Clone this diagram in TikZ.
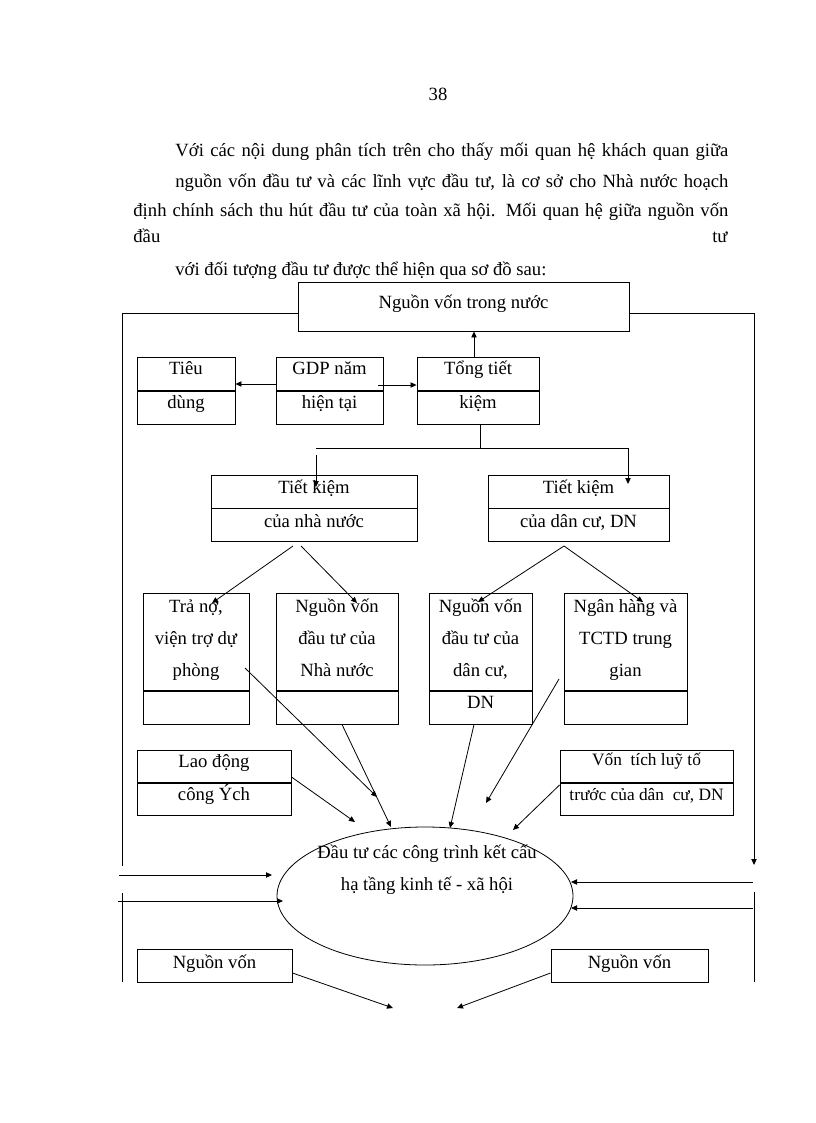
\documentclass[tikz,border=0pt]{standalone}
\usepackage{fontspec}
\setmainfont{Liberation Serif}
\usetikzlibrary{arrows.meta,fit,shapes.geometric}

\begin{document}
\begin{tikzpicture}[x=0.75pt, y=-0.75pt, line width=0.6pt,
  box/.style={draw, inner sep=0pt, line width=0.7pt},
  txt/.style={font=\fontsize{14}{16}\selectfont, inner sep=0pt, anchor=base},
  small txt/.style={txt, font=\fontsize{13}{15}\selectfont},
  arr/.style={-{Triangle[length=4.5pt,width=4pt]}},
  thick div/.style={line width=1.6pt},
  thin div/.style={line width=0.7pt}]
\useasboundingbox[fill=white] (0,0) rectangle (816,1123);

% page text
\node[txt] (pg) at (438,101) {38};
\node[txt, anchor=base west] (par1) at (175,157) {\makebox[414.75pt][s]{Với các nội dung phân tích trên cho thấy mối quan hệ khách quan giữa}};
\node[txt, anchor=base west] (par2) at (175,188) {\makebox[414.75pt][s]{nguồn vốn đầu tư và các lĩnh vực đầu tư, là cơ sở cho Nhà nước hoạch}};
\node[txt, anchor=base west] (par3) at (133,217) {\makebox[446.25pt][s]{định chính sách thu hút đầu tư của toàn xã hội. Mối quan hệ giữa nguồn vốn}};
\node[txt, anchor=base west] (par4a) at (133,243) {đầu};
\node[txt, anchor=base east] (par4b) at (728,243) {tư};
\node[txt, anchor=base west] (par5) at (175,275) {với đối tượng đầu tư được thể hiện qua sơ đồ sau:};

% outer frame
\draw[arr] (122,866) -- (122,313) -- (754,313) -- (754,865);
\draw (122,893) -- (122,982);
\draw (754,892) -- (754,982);

% boxes
\node[box, fill=white, fit={(298,282) (629,331)}] (dom) {};
\node[txt] (dom-t) at (463.5,308) {Nguồn vốn trong nước};

\node[box, fit={(137,357) (235,424)}] (tieu) {};
\draw[thick div] (137,391) -- (235,391);
\node[txt] (tieu-a) at (186,374) {Tiêu};
\node[txt] (tieu-b) at (186,408) {dùng};

\node[box, fit={(276,357) (383,424)}] (gdp) {};
\draw[thick div] (276,391) -- (383,391);
\node[txt] (gdp-a) at (329.5,374) {GDP năm};
\node[txt] (gdp-b) at (329.5,408) {hiện tại};

\node[box, fit={(417,357) (539,424)}] (tong) {};
\draw[thick div] (417,391) -- (539,391);
\node[txt] (tong-a) at (478,374) {Tổng tiết};
\node[txt] (tong-b) at (478,408) {kiệm};

\node[box, fit={(211,475) (417,541)}] (tknn) {};
\draw[thin div] (211,508) -- (417,508);
\node[txt] (tknn-a) at (314,493) {Tiết kiệm};
\node[txt] (tknn-b) at (314,527) {của nhà nước};

\node[box, fit={(488,475) (669,541)}] (tkdc) {};
\draw[thin div] (488,508) -- (669,508);
\node[txt] (tkdc-a) at (578.5,493) {Tiết kiệm};
\node[txt] (tkdc-b) at (578.5,527) {của dân cư, DN};

\node[box, fit={(143,593) (249,724)}] (trano) {};
\draw[thick div] (143,691) -- (249,691);
\node[txt] (trano-a) at (196,612) {Trả nợ,};
\node[txt] (trano-b) at (196,644) {viện trợ dự};
\node[txt] (trano-c) at (196,676) {phòng};

\node[box, fit={(276,593) (398,724)}] (nnvon) {};
\draw[thick div] (276,691) -- (398,691);
\node[txt] (nnvon-a) at (337,612) {Nguồn vốn};
\node[txt] (nnvon-b) at (337,644) {đầu tư của};
\node[txt] (nnvon-c) at (337,676) {Nhà nước};

\node[box, fit={(429,593) (532,724)}] (dcvon) {};
\draw[thick div] (429,691) -- (532,691);
\node[txt] (dcvon-a) at (480.5,612) {Nguồn vốn};
\node[txt] (dcvon-b) at (480.5,644) {đầu tư của};
\node[txt] (dcvon-c) at (480.5,676) {dân cư,};
\node[txt] (dcvon-d) at (480.5,708) {DN};

\node[box, fit={(564,593) (687,724)}] (nh) {};
\draw[thick div] (564,691) -- (687,691);
\node[txt] (nh-a) at (625.5,612) {Ngân hàng và};
\node[txt] (nh-b) at (625.5,644) {TCTD trung};
\node[txt] (nh-c) at (625.5,676) {gian};

\node[box, fit={(137,750) (291,815)}] (laod) {};
\draw[thick div] (137,783) -- (291,783);
\node[txt] (laod-a) at (214,767) {Lao động};
\node[txt] (laod-b) at (214,800) {công Ých};

\node[box, fit={(560,750) (733,815)}] (tichluy) {};
\draw[thick div] (560,783) -- (733,783);
\node[small txt] (tichluy-a) at (646.5,765) {Vốn\ \ tích luỹ tố};
\node[small txt] (tichluy-b) at (646.5,800) {trước của dân\ \ cư, DN};

\node[draw, ellipse, minimum width=222pt, minimum height=103.5pt, inner sep=0pt] (dautu) at (425,896) {};
\node[txt] (dautu-a) at (427,858) {Đầu tư các công trình kết cấu};
\node[txt] (dautu-b) at (427,890) {hạ tầng kinh tế - xã hội};

\node[box, fit={(137,949) (292,982)}] (nvl) {};
\node[txt] (nvl-t) at (214.5,968) {Nguồn vốn};
\node[box, fit={(551,949) (708,982)}] (nvr) {};
\node[txt] (nvr-t) at (629.5,968) {Nguồn vốn};

% free ends
\coordinate (gdp-r) at (378,385);
\coordinate (split) at (480,448);
\coordinate (split-l) at (316,448);
\coordinate (split-r) at (628,448);
\coordinate (tknn-in) at (316,487);
\coordinate (tkdc-in) at (628,484);
\coordinate (tknn-o1) at (293,546);
\coordinate (tknn-o2) at (301,546);
\coordinate (tkdc-o) at (564,546);
\coordinate (trano-in) at (212,603);
\coordinate (nnvon-in) at (357,603);
\coordinate (dcvon-in) at (478,602);
\coordinate (nh-in) at (643,602);
\coordinate (trano-o) at (245,668);
\coordinate (nh-o) at (559,679);
\coordinate (tip-laod) at (355,822);
\coordinate (tip-trano) at (377,797);
\coordinate (tip-nnvon) at (391,827);
\coordinate (tip-dcvon) at (450,828);
\coordinate (tip-nh) at (486,803);
\coordinate (tip-tichluy) at (513,830);
\coordinate (in-l1) at (119,875);
\coordinate (in-l2) at (118,901);
\coordinate (in-r1) at (753,882);
\coordinate (in-r2) at (753,908);
\coordinate (tip-l1) at (272,875);
\coordinate (tip-l2) at (283,901);
\coordinate (tip-r1) at (571,882);
\coordinate (tip-r2) at (571,908);
\coordinate (bot-l) at (393,1008);
\coordinate (bot-r) at (457,1008);

% connectors
\draw[arr] (gdp.west |- 0,384) -- (tieu.east |- 0,384);
\draw[arr] (gdp-r) -- (tong.west |- gdp-r);
\draw[arr] (tong.north -| 474,0) -- (dom.south -| 474,0);
\draw (tong.south -| split) -- (split);
\draw (split-l) -- (split-r);
\draw[arr] (316,455) -- (tknn-in);
\draw[arr] (split-r) -- (tkdc-in);
\draw[arr] (tknn-o1) -- (trano-in);
\draw[arr] (tknn-o2) -- (nnvon-in);
\draw[arr] (tkdc-o) -- (dcvon-in);
\draw[arr] (tkdc-o) -- (nh-in);
\draw[arr] (trano-o) -- (tip-trano);
\draw[arr] (nnvon.south -| 342,0) -- (tip-nnvon);
\draw[arr] (dcvon.south -| 474,0) -- (tip-dcvon);
\draw[arr] (nh-o) -- (tip-nh);
\draw[arr] (laod.east |- 0,777) -- (tip-laod);
\draw[arr] (tichluy.west |- 0,785) -- (tip-tichluy);
\draw[arr] (in-l1) -- (tip-l1);
\draw[arr] (in-l2) -- (tip-l2);
\draw[arr] (in-r1) -- (tip-r1);
\draw[arr] (in-r2) -- (tip-r2);
\draw[arr] (nvl.east |- 0,973) -- (bot-l);
\draw[arr] (nvr.west |- 0,973) -- (bot-r);
\end{tikzpicture}
\end{document}
